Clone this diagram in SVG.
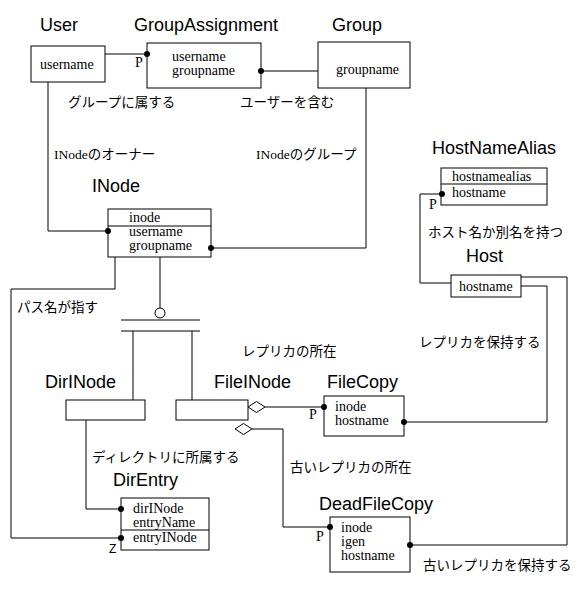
<svg xmlns="http://www.w3.org/2000/svg" width="581" height="591" viewBox="0 0 581 591">
<style>
.box{fill:#fff;stroke:#000;stroke-width:1}
.ln{fill:none;stroke:#000;stroke-width:1}
.t{font-family:"Liberation Serif","Noto Sans CJK JP",serif;font-size:14px;fill:#000}
.jp{font-family:"Liberation Serif","Noto Sans CJK JP",sans-serif;font-size:13.5px;fill:#000}
.h{font-family:"Liberation Sans",Arial,sans-serif;font-size:18px;fill:#000}
.z{font-family:"Liberation Sans",Arial,sans-serif;font-size:12px;fill:#000}
.dot{fill:#000}
.dia{fill:#fff;stroke:#000;stroke-width:1}
</style>
<rect width="581" height="591" fill="#fff"/>
<g id="User">
<text class="h" x="40" y="31">User</text>
<rect class="box" x="31" y="46" width="74" height="36"/>
<text class="t" x="40" y="69">username</text>
</g>
<g id="GroupAssignment">
<text class="h" x="134" y="31">GroupAssignment</text>
<rect class="box" x="147" y="43" width="114" height="45"/>
<text class="t" x="172" y="61">username</text>
<text class="t" x="172" y="75">groupname</text>
</g>
<g id="Group">
<text class="h" x="332" y="31">Group</text>
<rect class="box" x="318" y="42" width="92" height="46"/>
<text class="t" x="336" y="74">groupname</text>
</g>
<g id="INode">
<text class="h" x="92" y="192">INode</text>
<rect class="box" x="108" y="209" width="103" height="48"/>
<path class="ln" d="M108,226H211"/>
<text class="t" x="129" y="222">inode</text>
<text class="t" x="129" y="236">username</text>
<text class="t" x="129" y="250">groupname</text>
</g>
<g id="HostNameAlias">
<text class="h" x="432" y="154">HostNameAlias</text>
<rect class="box" x="441" y="168" width="106" height="37"/>
<path class="ln" d="M441,184H547"/>
<text class="t" x="452" y="181">hostnamealias</text>
<text class="t" x="452" y="197">hostname</text>
</g>
<g id="Host">
<text class="h" x="466" y="262">Host</text>
<rect class="box" x="451" y="275" width="70" height="22"/>
<text class="t" x="459" y="291">hostname</text>
</g>
<g id="DirINode">
<text class="h" x="45" y="388">DirINode</text>
<rect class="box" x="66" y="400" width="79" height="20"/>
</g>
<g id="FileINode">
<text class="h" x="214" y="388">FileINode</text>
<rect class="box" x="176" y="400" width="72" height="20"/>
</g>
<g id="FileCopy">
<text class="h" x="327" y="388">FileCopy</text>
<rect class="box" x="324" y="396" width="80" height="40"/>
<text class="t" x="335" y="411">inode</text>
<text class="t" x="335" y="425">hostname</text>
</g>
<g id="DeadFileCopy">
<text class="h" x="319" y="510">DeadFileCopy</text>
<rect class="box" x="330" y="517" width="80" height="55"/>
<text class="t" x="341" y="532">inode</text>
<text class="t" x="341" y="546">igen</text>
<text class="t" x="341" y="560">hostname</text>
</g>
<g id="DirEntry">
<text class="h" x="113" y="486">DirEntry</text>
<rect class="box" x="121" y="498" width="88" height="52"/>
<path class="ln" d="M121,530H209"/>
<text class="t" x="133" y="513">dirINode</text>
<text class="t" x="133" y="527">entryName</text>
<text class="t" x="133" y="542">entryINode</text>
</g>
<g id="connectors">
<path class="ln" d="M105,54H147"/>
<path class="ln" d="M261,71H318"/>
<path class="ln" d="M48,82V231H108"/>
<path class="ln" d="M366,88V248H211"/>
<path class="ln" d="M115,257V289H11V538H121"/>
<path class="ln" d="M160,257V308"/>
<circle class="dia" cx="160" cy="313" r="5"/>
<path class="ln" d="M121,320H200M121,331H200"/>
<path class="ln" d="M133,331V400M192,331V400"/>
<path class="ln" d="M86,420V509H121"/>
<path class="ln" d="M265,407H324"/>
<path class="ln" d="M252,429H283V527H330"/>
<path class="ln" d="M404,422H547V286H521"/>
<path class="ln" d="M410,545H567V277H521"/>
<path class="ln" d="M451,283H420V194H441"/>
<polygon class="dia" points="248,407 256.5,401.5 265,407 256.5,412.5"/>
<polygon class="dia" points="235,429 243.5,423.5 252,429 243.5,434.5"/>
<circle class="dot" cx="147" cy="54" r="3"/>
<circle class="dot" cx="261" cy="71" r="3"/>
<circle class="dot" cx="108" cy="231" r="3"/>
<circle class="dot" cx="211" cy="248" r="3"/>
<circle class="dot" cx="442" cy="194" r="3"/>
<circle class="dot" cx="324" cy="407" r="3"/>
<circle class="dot" cx="404" cy="422" r="3"/>
<circle class="dot" cx="330" cy="527" r="3"/>
<circle class="dot" cx="410" cy="545" r="3"/>
<circle class="dot" cx="121" cy="509" r="3"/>
<circle class="dot" cx="121" cy="538" r="3"/>
<text class="t" x="135" y="67">P</text>
<text class="t" x="429" y="209">P</text>
<text class="t" x="309" y="419">P</text>
<text class="t" x="316" y="541">P</text>
<text class="z" x="109" y="553">Z</text>
<text class="jp" x="68" y="107">グループに属する</text>
<text class="jp" x="240" y="107">ユーザーを含む</text>
<text class="jp" x="54" y="159">INodeのオーナー</text>
<text class="jp" x="256" y="159">INodeのグループ</text>
<text class="jp" x="17" y="312">パス名が指す</text>
<text class="jp" x="242" y="356">レプリカの所在</text>
<text class="jp" x="428" y="237">ホスト名か別名を持つ</text>
<text class="jp" x="419" y="347">レプリカを保持する</text>
<text class="jp" x="92" y="462">ディレクトリに所属する</text>
<text class="jp" x="290" y="472">古いレプリカの所在</text>
<text class="jp" x="423" y="570">古いレプリカを保持する</text>
</g>
</svg>
